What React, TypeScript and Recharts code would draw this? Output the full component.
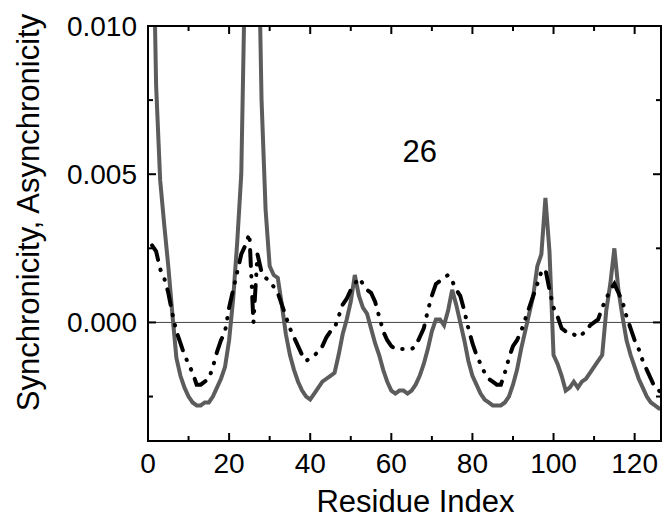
import { LineChart, Line, XAxis, YAxis, ReferenceLine, ReferenceDot } from "recharts";

const FONT = '"Liberation Sans", Arial, sans-serif';

// residue numbers 1..127
const residues = Array.from({ length: 127 }, (_, i) => i + 1);

// solid grey curve
const synchronicity = [
  0.0155, 0.008, 0.0048, 0.0033, 0.0019, 0.0003, -0.0012, -0.0018, -0.0022, -0.0025,
  -0.0027, -0.0028, -0.0028, -0.0027, -0.0027, -0.0025, -0.0022, -0.0019, -0.0015, -0.0006,
  0.0008, 0.0027, 0.005, 0.0125, 0.02, 0.021, 0.015, 0.0075, 0.0038, 0.0019,
  0.0016, 0.0015, 0.0006, -0.0004, -0.0011, -0.0016, -0.002, -0.0023, -0.0025, -0.0026,
  -0.0024, -0.0022, -0.002, -0.0019, -0.0018, -0.0017, -0.0011, -0.0004, 0.0001, 0.0007,
  0.0016, 0.0009, 0.0005, 0.0003, -0.0002, -0.0007, -0.0011, -0.0016, -0.002, -0.0023,
  -0.0024, -0.0023, -0.0023, -0.0024, -0.0023, -0.0021, -0.0018, -0.0014, -0.0009, -0.0003,
  0.0001, 0.0001, -0.0001, 0.0004, 0.0011, 0.0006, 0.0, -0.0006, -0.0013, -0.0018,
  -0.0021, -0.0024, -0.0026, -0.0027, -0.0028, -0.0028, -0.0028, -0.0027, -0.0025, -0.0021,
  -0.0016, -0.0009, -0.0003, 0.0003, 0.0009, 0.0019, 0.0023, 0.0042, 0.0024, -0.0011,
  -0.0014, -0.0018, -0.0023, -0.0022, -0.002, -0.0022, -0.002, -0.0019, -0.0017, -0.0015,
  -0.0013, -0.0011, 0.0004, 0.0013, 0.0025, 0.0011, 0.0002, -0.0006, -0.0011, -0.0015,
  -0.0019, -0.0022, -0.0025, -0.0027, -0.0028, -0.0029, -0.0029,
];

// dash-dot-dot black curve
const asynchronicity = [
  0.0026, 0.0024, 0.0018, 0.0015, 0.001, 0.0003, -0.0003, -0.0007, -0.0011, -0.0014,
  -0.0017, -0.0021, -0.0021, -0.002, -0.0019, -0.0015, -0.001, -0.0006, -0.0003, 0.0005,
  0.0011, 0.0017, 0.0023, 0.0026, 0.003, 0.0, 0.0023, 0.0017, 0.0015, 0.0014,
  0.0012, 0.001, 0.0006, 0.0002, -0.0002, -0.0005, -0.0008, -0.0011, -0.0013, -0.0012,
  -0.0011, -0.001, -0.0008, -0.0005, -0.0003, -0.0002, 0.0002, 0.0006, 0.0008, 0.0011,
  0.0013, 0.0015, 0.0013, 0.0011, 0.001, 0.0007, 0.0002, -0.0003, -0.0006, -0.0008,
  -0.0009, -0.0009, -0.0009, -0.0009, -0.0009, -0.0008, -0.0005, -0.0002, 0.0004, 0.0009,
  0.0013, 0.0014, 0.0015, 0.0016, 0.0014, 0.0011, 0.0009, 0.0004, -0.0002, -0.0007,
  -0.0011, -0.0014, -0.0017, -0.0019, -0.002, -0.0021, -0.0021, -0.0017, -0.0012, -0.0008,
  -0.0006, -0.0003, 0.0001, 0.0005, 0.0009, 0.0013, 0.0017, 0.0018, 0.0011, 0.0005,
  0.0002, -0.0002, -0.0003, -0.0004, -0.0004, -0.0005, -0.0004, -0.0003, -0.0001, 0.0,
  0.0001, 0.0005, 0.0008, 0.0011, 0.0013, 0.001, 0.0007, 0.0002, -0.0002, -0.0006,
  -0.0009, -0.0013, -0.0016, -0.0019, -0.0022, -0.0023, -0.0024,
];

const xTicks = [0, 10, 20, 30, 40, 50, 60, 70, 80, 90, 100, 110, 120];
const yTicks = [-0.0025, 0, 0.0025, 0.005, 0.0075, 0.01];
const xDomain = [0, 126.5];
const yDomain = [-0.004, 0.01];

const data = residues.map((r, i) => ({
  residue: r,
  sync: synchronicity[i],
  async: asynchronicity[i],
}));

// layout
const W = 662;
const H = 518;
const MARGIN_TOP = 25;
const TOP_AXIS_H = 1;
const LEFT_AXIS_W = 148;
const RIGHT_AXIS_W = 1;
const BOTTOM_AXIS_H = 77;
const plotLeft = LEFT_AXIS_W;
const plotTop = MARGIN_TOP + TOP_AXIS_H;
const plotW = W - LEFT_AXIS_W - RIGHT_AXIS_W;
const plotH = H - plotTop - BOTTOM_AXIS_H;

const isMajorX = (v: number) => v % 20 === 0;
const isMajorY = (v: number) => Math.abs(v / 0.005 - Math.round(v / 0.005)) < 1e-6;

function BottomTick(props: any) {
  const x = Number(props.x);
  const y = Number(props.y);
  const v = props.payload.value;
  const major = isMajorX(v);
  const ay = y - 12;
  return (
    <g>
      <line x1={x} x2={x} y1={ay} y2={ay - (major ? 8 : 5)} stroke="#000" strokeWidth={2} />
      {major && (
        <text x={x} y={y} dy="0.71em" textAnchor="middle" fontSize={28} fontFamily={FONT} fill="#000">
          {v}
        </text>
      )}
    </g>
  );
}

function TopTick(props: any) {
  const x = Number(props.x);
  const y = Number(props.y);
  const major = isMajorX(props.payload.value);
  return <line x1={x} x2={x} y1={y} y2={y + (major ? 8 : 5)} stroke="#000" strokeWidth={2} />;
}

function LeftTick(props: any) {
  const x = Number(props.x);
  const y = Number(props.y);
  const v = props.payload.value;
  const major = isMajorY(v);
  const ax = x + 11;
  return (
    <g>
      <line x1={ax} x2={ax + (major ? 8 : 5)} y1={y} y2={y} stroke="#000" strokeWidth={2} />
      {major && (
        <text x={x} y={y} dy="0.355em" textAnchor="end" fontSize={28} fontFamily={FONT} fill="#000">
          {v.toFixed(3)}
        </text>
      )}
    </g>
  );
}

function RightTick(props: any) {
  const x = Number(props.x);
  const y = Number(props.y);
  const major = isMajorY(props.payload.value);
  return <line x1={x} x2={x - (major ? 8 : 5)} y1={y} y2={y} stroke="#000" strokeWidth={2} />;
}

const axisLine = { stroke: "#000", strokeWidth: 2 };

export default function App() {
  return (
    <div style={{ position: "absolute", left: 0, top: 0, width: W, height: H, background: "#fff" }}>
      <LineChart
        width={W}
        height={H}
        data={data}
        margin={{ top: MARGIN_TOP, right: 0, bottom: 0, left: 0 }}
      >
        <XAxis
          xAxisId="bottom"
          dataKey="residue"
          type="number"
          domain={xDomain}
          allowDataOverflow
          ticks={xTicks}
          interval={0}
          height={BOTTOM_AXIS_H}
          tickSize={0}
          tickMargin={12}
          tickLine={false}
          axisLine={axisLine}
          tick={(p: any) => <BottomTick {...p} />}
          label={{
            value: "Residue Index",
            position: "insideBottom",
            offset: 6,
            dx: 11,
            fontSize: 31,
            fill: "#000",
            fontFamily: FONT,
          }}
        />
        <XAxis
          xAxisId="top"
          orientation="top"
          dataKey="residue"
          type="number"
          domain={xDomain}
          allowDataOverflow
          ticks={xTicks}
          interval={0}
          height={TOP_AXIS_H}
          tickSize={0}
          tickMargin={0}
          axisLine={axisLine}
          tick={(p: any) => <TopTick {...p} />}
        />
        <YAxis
          yAxisId="left"
          type="number"
          domain={yDomain}
          allowDataOverflow
          ticks={yTicks}
          interval={0}
          width={LEFT_AXIS_W}
          tickSize={0}
          tickMargin={11}
          tickLine={false}
          axisLine={axisLine}
          tick={(p: any) => <LeftTick {...p} />}
          label={{
            value: "Synchronicity, Asynchronicity",
            angle: -90,
            position: "insideLeft",
            offset: 28,
            dy: -21,
            fontSize: 31,
            fill: "#000",
            fontFamily: FONT,
            style: { textAnchor: "middle" },
          }}
        />
        <YAxis
          yAxisId="right"
          orientation="right"
          type="number"
          domain={yDomain}
          allowDataOverflow
          ticks={yTicks}
          interval={0}
          width={RIGHT_AXIS_W}
          tickSize={0}
          tickMargin={0}
          axisLine={axisLine}
          tick={(p: any) => <RightTick {...p} />}
        />
        <ReferenceLine xAxisId="bottom" yAxisId="left" y={0} stroke="#444" strokeWidth={1} />
        <Line
          xAxisId="bottom"
          yAxisId="left"
          type="linear"
          dataKey="sync"
          stroke="#5c5c5c"
          strokeWidth={4}
          dot={false}
          isAnimationActive={false}
        />
        <Line
          xAxisId="top"
          yAxisId="right"
          type="linear"
          dataKey="async"
          stroke="#000"
          strokeWidth={4}
          strokeDasharray="16 10 0.5 10 0.5 10"
          strokeLinecap="round"
          dot={false}
          isAnimationActive={false}
        />
        <ReferenceDot
          xAxisId="bottom"
          yAxisId="left"
          x={67}
          y={0.0058}
          r={0}
          label={{ value: "26", position: "center", fontSize: 31, fill: "#000", fontFamily: FONT }}
        />
      </LineChart>
      {/* plot frame drawn over the chart so the top and right edges always show */}
      <svg
        width={W}
        height={H}
        style={{ position: "absolute", left: 0, top: 0, pointerEvents: "none" }}
      >
        <rect
          x={plotLeft}
          y={plotTop}
          width={plotW}
          height={plotH}
          fill="none"
          stroke="#000"
          strokeWidth={2}
        />
      </svg>
    </div>
  );
}
